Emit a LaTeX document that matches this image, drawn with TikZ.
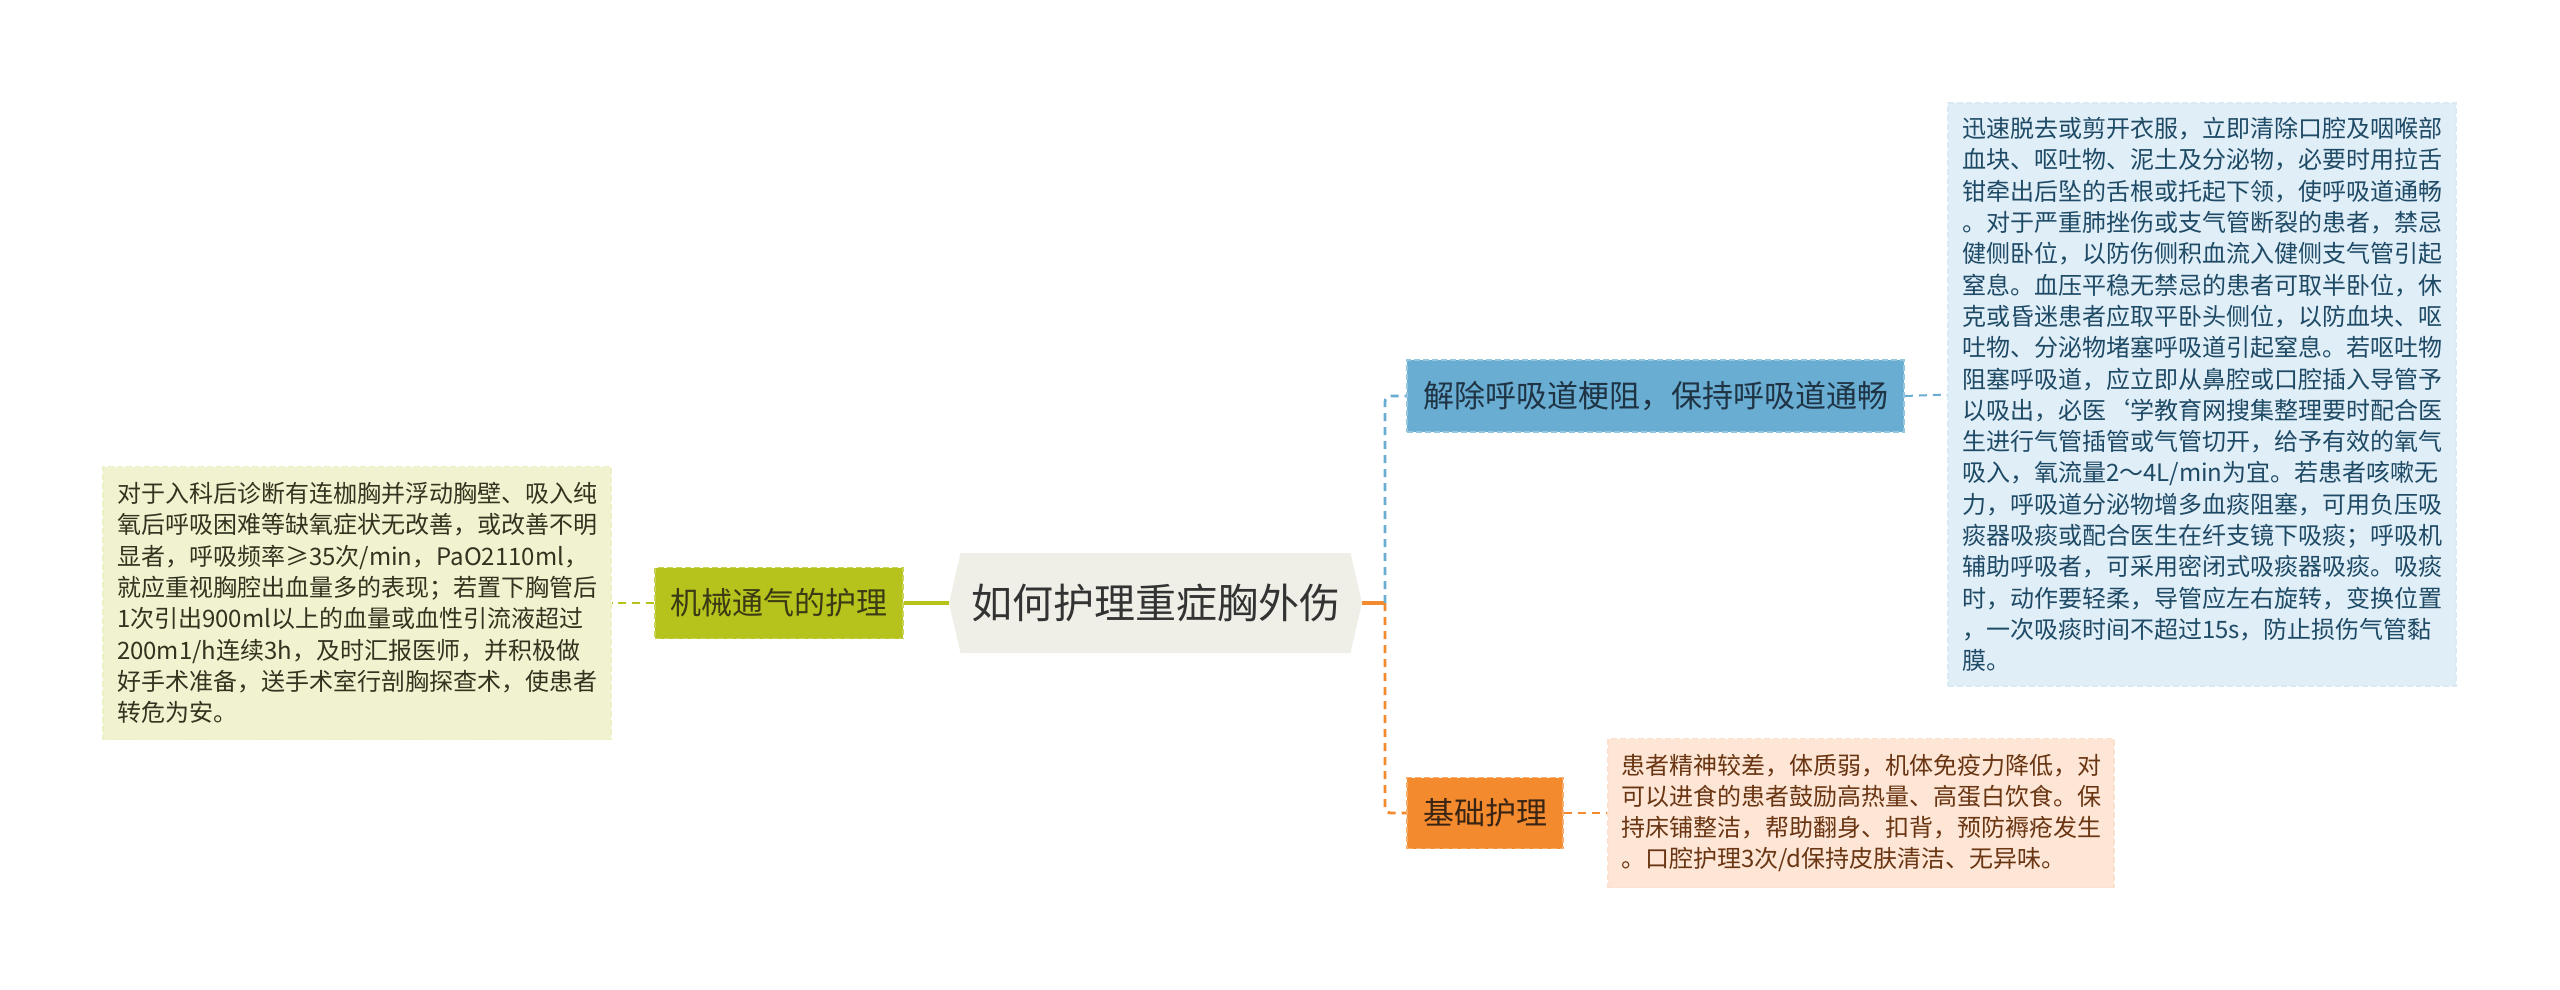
\documentclass[tikz,border=0pt]{standalone}
\usepackage{fontspec}
\setmainfont{Noto Sans CJK SC}
\usetikzlibrary{shapes.symbols}
\definecolor{cfill}{HTML}{EFEFE7}
\definecolor{ctext}{HTML}{333333}
\definecolor{olv}{HTML}{B6C31C}
\definecolor{olvtext}{HTML}{3A3A14}
\definecolor{olvbox}{HTML}{F1F3D0}
\definecolor{olvboxtext}{HTML}{33331F}
\definecolor{blu}{HTML}{6AADD2}
\definecolor{blutext}{HTML}{1E3344}
\definecolor{blubox}{HTML}{E0EEF7}
\definecolor{bluboxtext}{HTML}{1E4A66}
\definecolor{org}{HTML}{F38A2E}
\definecolor{orgtext}{HTML}{3A2414}
\definecolor{orgbox}{HTML}{FDE6D5}
\definecolor{orgboxtext}{HTML}{6A3512}
\tikzset{
  topic/.style={rectangle, inner sep=0pt, dashed, dash pattern=on 3pt off 1.5pt, line width=0.8pt,
    font=\fontsize{15.5pt}{18pt}\selectfont},
  notebox/.style={rectangle, inner sep=0pt, align=left, dashed, dash pattern=on 3pt off 1.5pt, line width=0.6pt,
    font=\fontsize{12pt}{15.65pt}\selectfont},
  link/.style={dashed, dash pattern=on 4pt off 3pt, line width=1pt},
}
\begin{document}
\begin{tikzpicture}[x=0.5pt,y=-0.5pt]
\fill[white] (0,0) rectangle (2560,990);
\useasboundingbox (0,0) rectangle (2560,990);

% central topic
\node[signal, signal to=west and east, signal pointer angle=154, fill=cfill, minimum width=206.5pt,
  minimum height=50pt, inner sep=0pt, font=\fontsize{20.5pt}{24pt}\selectfont, text=ctext] (c) at (1155.5,603) {如何护理重症胸外伤};

% left branch
\node[topic, fill=olv, draw=olv!75!white, text=olvtext, minimum width=124pt, minimum height=35.5pt] (m) at (779,603) {机械通气的护理};
\node[notebox, fill=olvbox, draw=olvbox!94!olv, text=olvboxtext, minimum width=254pt, minimum height=136.5pt] (mt) at (357,603) {对于入科后诊断有连枷胸并浮动胸壁、吸入纯\\氧后呼吸困难等缺氧症状无改善，或改善不明\\显者，呼吸频率≥35次/min，PaO2110ml，\\就应重视胸腔出血量多的表现；若置下胸管后\\1次引出900ml以上的血量或血性引流液超过\\200m1/h连续3h，及时汇报医师，并积极做\\好手术准备，送手术室行剖胸探查术，使患者\\转危为安。};

% right branches
\node[topic, fill=blu, draw=blu!70!white, text=blutext, minimum width=248.5pt, minimum height=36pt] (b) at (1655.5,396) {解除呼吸道梗阻，保持呼吸道通畅};
\node[notebox, fill=blubox, draw=blubox!94!blu, text=bluboxtext, minimum width=254pt, minimum height=291.5pt] (bt) at (2202,394.5) {迅速脱去或剪开衣服，立即清除口腔及咽喉部\\血块、呕吐物、泥土及分泌物，必要时用拉舌\\钳牵出后坠的舌根或托起下领，使呼吸道通畅\\。对于严重肺挫伤或支气管断裂的患者，禁忌\\健侧卧位，以防伤侧积血流入健侧支气管引起\\窒息。血压平稳无禁忌的患者可取半卧位，休\\克或昏迷患者应取平卧头侧位，以防血块、呕\\吐物、分泌物堵塞呼吸道引起窒息。若呕吐物\\阻塞呼吸道，应立即从鼻腔或口腔插入导管予\\以吸出，必医`学教育网搜集整理要时配合医\\生进行气管插管或气管切开，给予有效的氧气\\吸入，氧流量2～4L/min为宜。若患者咳嗽无\\力，呼吸道分泌物增多血痰阻塞，可用负压吸\\痰器吸痰或配合医生在纤支镜下吸痰；呼吸机\\辅助呼吸者，可采用密闭式吸痰器吸痰。吸痰\\时，动作要轻柔，导管应左右旋转，变换位置\\，一次吸痰时间不超过15s，防止损伤气管黏\\膜。};

\node[topic, fill=org, draw=org!70!white, text=orgtext, minimum width=78pt, minimum height=35.5pt] (o) at (1485,813) {基础护理};
\node[notebox, fill=orgbox, draw=orgbox!94!org, text=orgboxtext, minimum width=253pt, minimum height=74.5pt] (ot) at (1861,813) {患者精神较差，体质弱，机体免疫力降低，对\\可以进食的患者鼓励高热量、高蛋白饮食。保\\持床铺整洁，帮助翻身、扣背，预防褥疮发生\\。口腔护理3次/d保持皮肤清洁、无异味。};

% connectors
\coordinate (j) at (1385,603);
\draw[olv, line width=1.6pt] (c.west) -- (m.east);
\draw[olv, link] (m.west) -- (mt.east);
\draw[org, line width=1.6pt] (c.east) -- (j);
\draw[blu, link, line width=1.4pt, rounded corners=3pt] (j) |- (b.west);
\draw[org, link, line width=1.4pt, rounded corners=3pt] (j) |- (o.west);
\draw[blu, link] (b.east) -- (bt.west);
\draw[org, link] (o.east) -- (ot.west);
\end{tikzpicture}
\end{document}
